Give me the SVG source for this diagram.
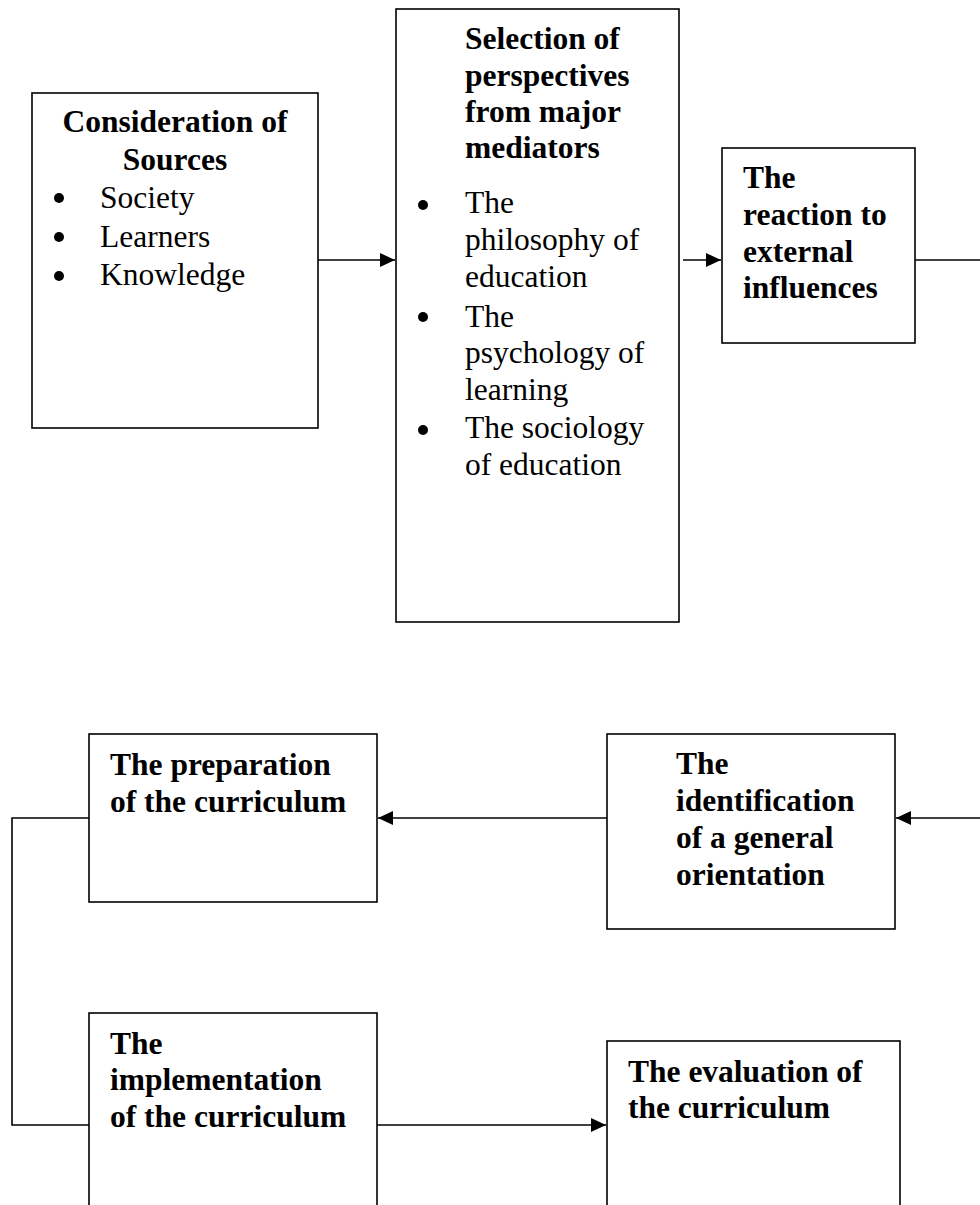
<svg xmlns="http://www.w3.org/2000/svg" width="980" height="1205" viewBox="0 0 980 1205">
<style>
.box{fill:#fff;stroke:#000;stroke-width:1.6}
.conn{fill:none;stroke:#000;stroke-width:1.6}
.b{font-family:"Liberation Serif","Times New Roman",serif;font-size:31.5px;font-weight:bold;fill:#000}
.r{font-family:"Liberation Serif","Times New Roman",serif;font-size:31.5px;fill:#000}
.dot{fill:#000}
</style>
<defs>
<marker id="arr" markerUnits="userSpaceOnUse" markerWidth="16" markerHeight="16" viewBox="0 0 16 16" refX="15" refY="8" orient="auto">
<path d="M0,1 L15,8 L0,15 Z" fill="#000"/>
</marker>
</defs>
<rect width="980" height="1205" fill="#fff"/>
<g id="connectors">
<path class="conn" d="M318,260 H395" marker-end="url(#arr)"/>
<path class="conn" d="M683,260 H721" marker-end="url(#arr)"/>
<path class="conn" d="M915,260 H980"/>
<path class="conn" d="M980,818 H896" marker-end="url(#arr)"/>
<path class="conn" d="M607,818 H378" marker-end="url(#arr)"/>
<path class="conn" d="M89,818 H12 V1125 H89"/>
<path class="conn" d="M377,1125 H606" marker-end="url(#arr)"/>
</g>
<g id="sources">
<rect class="box" x="32" y="93" width="286" height="335"/>
<text class="b" x="175" y="132" text-anchor="middle">Consideration of</text>
<text class="b" x="175" y="170" text-anchor="middle">Sources</text>
<circle class="dot" cx="59" cy="198" r="5"/>
<text class="r" x="100" y="208">Society</text>
<circle class="dot" cx="59" cy="237" r="5"/>
<text class="r" x="100" y="247">Learners</text>
<circle class="dot" cx="59" cy="276" r="5"/>
<text class="r" x="100" y="285">Knowledge</text>
</g>
<g id="mediators">
<rect class="box" x="396" y="9" width="283" height="613"/>
<text class="b" x="465" y="49">Selection of</text>
<text class="b" x="465" y="86">perspectives</text>
<text class="b" x="465" y="122">from major</text>
<text class="b" x="465" y="158">mediators</text>
<circle class="dot" cx="423" cy="205" r="5"/>
<text class="r" x="465" y="213">The</text>
<text class="r" x="465" y="250">philosophy of</text>
<text class="r" x="465" y="287">education</text>
<circle class="dot" cx="423" cy="317" r="5"/>
<text class="r" x="465" y="327">The</text>
<text class="r" x="465" y="363">psychology of</text>
<text class="r" x="465" y="400">learning</text>
<circle class="dot" cx="423" cy="430" r="5"/>
<text class="r" x="465" y="438">The sociology</text>
<text class="r" x="465" y="475">of education</text>
</g>
<g id="reaction">
<rect class="box" x="722" y="148" width="193" height="195"/>
<text class="b" x="743" y="188">The</text>
<text class="b" x="743" y="225">reaction to</text>
<text class="b" x="743" y="262">external</text>
<text class="b" x="743" y="298">influences</text>
</g>
<g id="orientation">
<rect class="box" x="607" y="734" width="288" height="195"/>
<text class="b" x="676" y="774">The</text>
<text class="b" x="676" y="811">identification</text>
<text class="b" x="676" y="848">of a general</text>
<text class="b" x="676" y="885">orientation</text>
</g>
<g id="preparation">
<rect class="box" x="89" y="734" width="288" height="168"/>
<text class="b" x="110" y="775">The preparation</text>
<text class="b" x="110" y="812">of the curriculum</text>
</g>
<g id="implementation">
<rect class="box" x="89" y="1013" width="288" height="210"/>
<text class="b" x="110" y="1054">The</text>
<text class="b" x="110" y="1090">implementation</text>
<text class="b" x="110" y="1127">of the curriculum</text>
</g>
<g id="evaluation">
<rect class="box" x="607" y="1041" width="293" height="180"/>
<text class="b" x="628" y="1082">The evaluation of</text>
<text class="b" x="628" y="1118">the curriculum</text>
</g>
</svg>
